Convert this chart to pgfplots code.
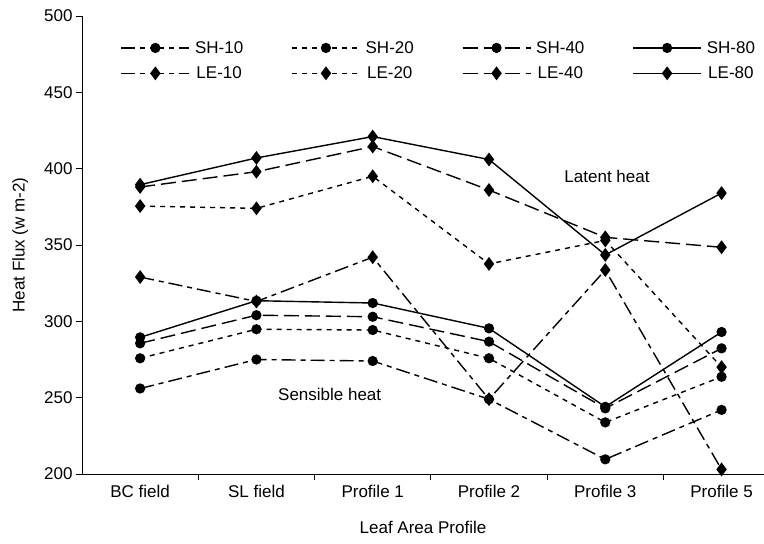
\documentclass[border=0pt]{standalone}
\usepackage{pgfplots}
\pgfplotsset{compat=1.18}
\usepackage{fontspec}
\setmainfont{Liberation Sans}
\newcommand{\fs}{\fontsize{17}{19}\selectfont}
\pgfplotsset{
  dd/.style={dash pattern=on 14pt off 5pt on 5pt off 5pt},
  sd/.style={dash pattern=on 5pt off 5pt},
  ld/.style={dash pattern=on 15pt off 6pt},
  sh/.style={black, line width=1.4pt, mark=*, mark size=4.4pt, mark options={solid}},
  le/.style={black, line width=1.4pt, mark=diamond*, mark size=5.8pt, mark options={solid}},
}
\begin{document}
\begin{tikzpicture}
\begin{axis}[
  scale only axis, width=682pt, height=458pt,
  xmin=-0.5, xmax=5.365, ymin=200, ymax=500,
  axis x line*=bottom, axis y line*=left,
  axis line style={line width=0.8pt},
  xtick={0,...,5},
  xticklabels={BC field, SL field, Profile 1, Profile 2, Profile 3, Profile 5},
  major x tick style={draw=none},
  minor xtick={0.5,1.5,2.5,3.5,4.5},
  ytick={200,250,...,500},
  tick align=outside, major tick length=6pt, minor tick length=6pt,
  tick style={black, line width=0.8pt},
  ticklabel style={font=\fs},
  xticklabel style={yshift=-2pt},
  /pgf/number format/assume math mode=true,
  label style={font=\fs},
  xlabel={Leaf Area Profile},
  xlabel style={yshift=-16pt},
  ylabel={Heat Flux (w m-2)},
  ylabel style={yshift=9pt},
  legend columns=4,
  legend style={at={(0.052,0.954)}, anchor=north west, draw=none, fill=none,
    font=\fs, column sep=3pt, row sep=8pt,
    /tikz/every even column/.append style={column sep=46pt}},
  legend image code/.code={\draw[mark repeat=2,mark phase=2] plot coordinates {(0pt,0pt) (34pt,0pt) (68pt,0pt)};},
]
\addplot[sh, dd] coordinates {(0,256) (1,275) (2,274) (3,249) (4,209.6) (5,242)};
\addlegendentry{SH-10}
\addplot[sh, sd] coordinates {(0,275.8) (1,294.8) (2,294.3) (3,275.8) (4,233.8) (5,263.7)};
\addlegendentry{SH-20}
\addplot[sh, ld] coordinates {(0,285.6) (1,304) (2,303) (3,286.7) (4,243) (5,282.3)};
\addlegendentry{SH-40}
\addplot[sh] coordinates {(0,289.5) (1,313.5) (2,312) (3,295.4) (4,244) (5,293)};
\addlegendentry{SH-80}
\addplot[le, dd] coordinates {(0,329) (1,313) (2,342) (3,249) (4,333.6) (5,203)};
\addlegendentry{LE-10}
\addplot[le, sd] coordinates {(0,375.5) (1,374) (2,395) (3,337.6) (4,353) (5,270)};
\addlegendentry{LE-20}
\addplot[le, ld] coordinates {(0,388) (1,398) (2,414.5) (3,386) (4,355) (5,348.5)};
\addlegendentry{LE-40}
\addplot[le] coordinates {(0,389.5) (1,407) (2,421) (3,406) (4,343.5) (5,384)};
\addlegendentry{LE-80}
\node[font=\fs] at (axis cs:4.015,395) {Latent heat};
\node[font=\fs] at (axis cs:1.63,252.4) {Sensible heat};
\coordinate (sw) at (rel axis cs:0,0);
\coordinate (ne) at (rel axis cs:1,1);
\end{axis}
\pgfresetboundingbox
\path[use as bounding box] ([xshift=-82pt,yshift=-70pt]sw) rectangle ([yshift=16pt]ne);
\end{tikzpicture}
\end{document}
